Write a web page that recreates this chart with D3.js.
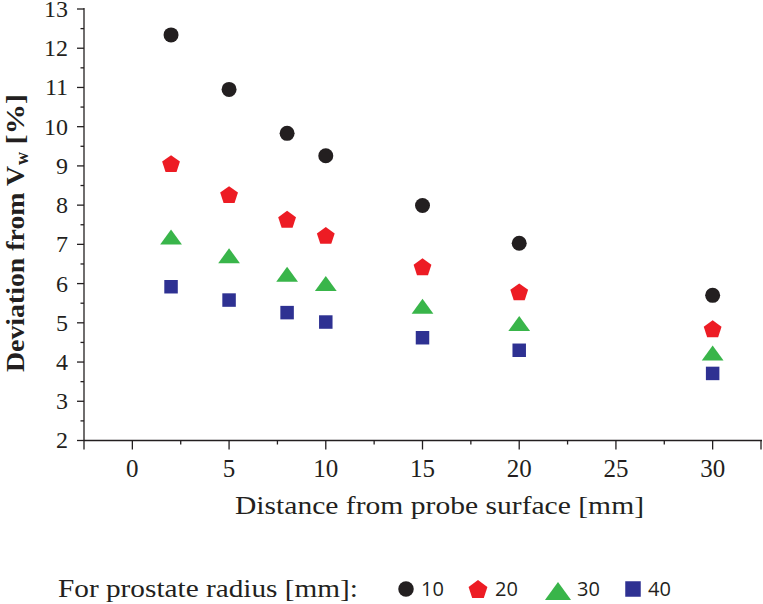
<!DOCTYPE html>
<html><head><meta charset="utf-8">
<script src="https://cdn.jsdelivr.net/npm/d3@7"></script>
<style>html,body{margin:0;padding:0;background:#fff;}svg{display:block;}</style>
</head><body>
<svg id="chart" width="763" height="604"></svg>
<script>
const distances = [2, 5, 8, 10, 15, 20, 30];
const radii = ["10", "20", "30", "40"];
const dev10 = [12.34, 10.95, 9.83, 9.26, 7.99, 7.03, 5.70];
const dev20 = [9.06, 8.27, 7.64, 7.23, 6.43, 5.79, 4.85];
const dev30 = [7.19, 6.71, 6.24, 6.00, 5.42, 4.98, 4.23];
const dev40 = [5.92, 5.58, 5.26, 5.02, 4.62, 4.30, 3.71];
const xTicks = [0, 5, 10, 15, 20, 25, 30];
const yTicks = [2, 3, 4, 5, 6, 7, 8, 9, 10, 11, 12, 13];
const colors = ["#231f20", "#ed1c24", "#39b54a", "#2e3192"];
const shapes = ["circle", "pentagon", "triangle", "square"];
const seriesVals = [dev10, dev20, dev30, dev40];

const svg = d3.select("#chart");
const serif = "'Liberation Serif', 'Times New Roman', serif";
const x = d3.scaleLinear().domain([-2.5, 32.5]).range([84, 761]);
const y = d3.scaleLinear().domain([2, 13]).range([440.5, 9]);

function shapePath(kind, s) {
  const p = d3.path();
  if (kind === "circle") { p.arc(0, 0, s/2, 0, 2*Math.PI); }
  else if (kind === "square") { p.rect(-s/2, -s/2, s, s); }
  else if (kind === "triangle") { const w = s*1.45, h = s; p.moveTo(0, -h/2); p.lineTo(w/2, h/2); p.lineTo(-w/2, h/2); p.closePath(); }
  else if (kind === "pentagon") {
    const r = s*0.55;
    for (let i = 0; i < 5; i++) { const a = -Math.PI/2 + i*2*Math.PI/5; const px = r*Math.cos(a), py = r*Math.sin(a) + r*0.1; if (i===0) p.moveTo(px, py); else p.lineTo(px, py); }
    p.closePath();
  }
  return p.toString();
}
const sizes = {circle: 15, pentagon: 17, triangle: 15, square: 13.5};

// axes
const xAxis = svg.append("g").attr("transform", "translate(0,440.5)");
xAxis.append("line").attr("x1", 84).attr("x2", 762).attr("stroke", "#231f20").attr("stroke-width", 1.3);
const xAll = d3.range(-2.5, 33, 2.5);
xAxis.selectAll("line.t").data(xAll).join("line").attr("class", "t")
  .attr("x1", d => x(d)).attr("x2", d => x(d)).attr("y1", 0)
  .attr("y2", d => (d % 5 === 0 || d === -2.5 || d === 32.5) ? 9 : 4)
  .attr("stroke", "#231f20").attr("stroke-width", 1.3);
xAxis.selectAll("text").data(xTicks).join("text")
  .attr("x", d => x(d)).attr("y", 36.5).attr("text-anchor", "middle")
  .attr("font-family", serif).attr("font-size", 25).attr("fill", "#231f20").text(d => d);

const yAxis = svg.append("g");
yAxis.append("line").attr("x1", 84).attr("x2", 84).attr("y1", 8).attr("y2", 441).attr("stroke", "#231f20").attr("stroke-width", 1.3);
const yAll = d3.range(2, 13.01, 0.5);
yAxis.selectAll("line.t").data(yAll).join("line").attr("class", "t")
  .attr("x1", d => Number.isInteger(d) ? 77 : 80.5).attr("x2", 84)
  .attr("y1", d => y(d)).attr("y2", d => y(d))
  .attr("stroke", "#231f20").attr("stroke-width", 1.3);
yAxis.selectAll("text").data(yTicks).join("text")
  .attr("x", 68).attr("y", d => y(d)).attr("dy", "0.33em").attr("text-anchor", "end")
  .attr("font-family", serif).attr("font-size", 24).attr("fill", "#231f20").text(d => d);

// titles
svg.append("text").attr("x", 235).attr("y", 514).attr("font-family", serif).attr("font-size", 25)
  .attr("fill", "#231f20").attr("textLength", 409).attr("lengthAdjust", "spacingAndGlyphs")
  .text("Distance from probe surface [mm]");

const yt = svg.append("text").attr("transform", "translate(24,372) rotate(-90)")
  .attr("font-family", serif).attr("font-size", 26).attr("font-weight", "bold").attr("fill", "#231f20");
yt.append("tspan").attr("textLength", 206).attr("lengthAdjust", "spacingAndGlyphs").text("Deviation from V");
yt.append("tspan").attr("font-size", 18).attr("dy", 4).attr("dx", 1).text("w");
yt.append("tspan").attr("dy", -4).attr("textLength", 58).attr("lengthAdjust", "spacingAndGlyphs").text(" [%]");

// points
seriesVals.forEach((vals, si) => {
  svg.append("g").selectAll("path").data(distances.map((d, i) => [d, vals[i]])).join("path")
    .attr("transform", d => `translate(${x(d[0])},${y(d[1])})`)
    .attr("d", shapePath(shapes[si], sizes[shapes[si]]))
    .attr("fill", colors[si]);
});

// legend
svg.append("text").attr("x", 58).attr("y", 597).attr("font-family", serif).attr("font-size", 25)
  .attr("fill", "#231f20").attr("textLength", 300).attr("lengthAdjust", "spacingAndGlyphs")
  .text("For prostate radius [mm]:");
const legX = [406, 478, 558, 633];
const legTX = [421, 495, 577, 648];
const legSize = {circle: 15.5, pentagon: 18, triangle: 18, square: 15.5};
radii.forEach((r, i) => {
  svg.append("path").attr("transform", `translate(${legX[i]},${shapes[i]==="triangle"?591:589})`)
    .attr("d", shapePath(shapes[i], legSize[shapes[i]])).attr("fill", colors[i]);
  svg.append("text").attr("x", legTX[i]).attr("y", 596).attr("font-family", "'Open Sans', 'Noto Sans', sans-serif")
    .attr("font-size", 20).attr("fill", "#231f20").text(r);
});
</script>
</body></html>
